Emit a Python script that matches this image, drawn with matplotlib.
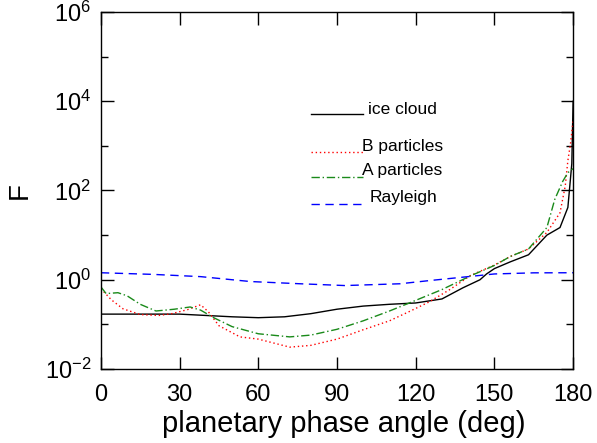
import numpy as np
import matplotlib
matplotlib.use("Agg")
import matplotlib.pyplot as plt
from matplotlib.ticker import FixedLocator, LogFormatterMathtext, NullFormatter

plt.rcParams['font.family'] = ['Liberation Sans', 'DejaVu Sans']
plt.rcParams['mathtext.default'] = 'regular'

# values (log10 F)
ice_x = [0, 10, 20, 30, 40, 50, 60, 70, 80, 90, 100, 110, 120, 130, 138, 144.5,
         147, 150, 156, 163, 170, 175, 178, 179.5, 180]
ice_log = [-0.77, -0.77, -0.77, -0.77, -0.80, -0.83, -0.85, -0.83, -0.76, -0.66,
           -0.59, -0.55, -0.52, -0.43, -0.18, 0.0, 0.13, 0.25, 0.40, 0.56, 1.0,
           1.17, 1.62, 2.6, 4.0]

a_x = [0, 2, 6.5, 10, 15, 21, 28, 34, 38, 43, 50, 60, 72, 80, 90, 100, 110, 118,
       130, 141, 150, 156, 163, 170, 173, 176, 178, 180]
a_log = [-0.16, -0.31, -0.29, -0.36, -0.55, -0.70, -0.66, -0.61, -0.68, -0.85,
         -1.05, -1.21, -1.28, -1.24, -1.11, -0.92, -0.70, -0.51, -0.22, 0.09,
         0.32, 0.52, 0.69, 1.17, 1.8, 2.2, 2.4, 2.49]

b_x = [0, 4, 8.4, 15, 22, 27, 33, 38, 41, 45, 53, 60, 66, 72, 80, 90, 100, 110,
       118, 125, 133, 141, 150, 156, 163, 170, 175, 177, 178, 179, 180]
b_log = [-0.2, -0.45, -0.65, -0.78, -0.80, -0.76, -0.67, -0.56, -0.72, -1.03,
         -1.28, -1.33, -1.42, -1.51, -1.47, -1.33, -1.12, -0.92, -0.70, -0.50,
         -0.22, 0.10, 0.33, 0.52, 0.69, 1.06, 1.5, 2.1, 2.67, 3.05, 3.57]

ray_x = [0, 20, 38, 57, 76, 93, 114, 125, 140, 150, 165, 180]
ray_log = [0.157, 0.12, 0.07, -0.04, -0.09, -0.13, -0.09, -0.02, 0.07, 0.13,
           0.155, 0.157]

series = [
    ("ice cloud", ice_x, ice_log, dict(color="black", ls="-")),
    ("B particles", b_x, b_log, dict(color="red", ls=(0, (1, 2)))),
    ("A particles", a_x, a_log, dict(color="#1a8a1a", ls=(0, (6, 2, 1, 2)))),
    ("Rayleigh", ray_x, ray_log, dict(color="blue", ls=(0, (6, 4)))),
]

fig = plt.figure(figsize=(5.97, 4.43), dpi=100)
ax = fig.add_axes([0.169, 0.167, 0.791, 0.806])

for name, xs, lg, st in series:
    ax.plot(xs, 10 ** np.array(lg), lw=1.0, **st)

ax.set_yscale('log')
ax.set_xlim(0, 180)
ax.set_ylim(1e-2, 1e6)
ax.set_xticks([0, 30, 60, 90, 120, 150, 180])
ax.yaxis.set_major_locator(FixedLocator([1e-2, 1e0, 1e2, 1e4, 1e6]))
ax.yaxis.set_major_formatter(LogFormatterMathtext())
ax.yaxis.set_minor_locator(FixedLocator([1e-1, 1e1, 1e3, 1e5]))
ax.yaxis.set_minor_formatter(NullFormatter())
ax.tick_params(which='major', direction='in', length=9, width=1,
               top=True, right=True, labelsize=17)
ax.tick_params(axis='x', which='major', pad=11)
ax.tick_params(axis='y', which='major', pad=7)
ax.tick_params(which='minor', direction='in', length=5, width=1,
               top=True, right=True)
for s in ax.spines.values():
    s.set_linewidth(1.0)

ax.set_xlabel('planetary phase angle (deg)', fontsize=21)
ax.xaxis.set_label_coords(0.515, -0.115)
ax.set_ylabel('F', fontsize=20)
ax.yaxis.set_label_coords(-0.172, 0.5)
ax.yaxis.label.set_va('center')

# legend drawn by hand, no frame: (text x, text y, line y) in axes fraction
leg_text_x = [0.566, 0.553, 0.553, 0.570]
leg_text_y = [0.728, 0.622, 0.555, 0.479]
leg_line_y = [0.714, 0.608, 0.538, 0.462]
for (name, _, _, st), tx, ty, ly in zip(series, leg_text_x, leg_text_y, leg_line_y):
    ax.plot([0.444, 0.554], [ly, ly], transform=ax.transAxes, lw=1.0, **st)
    ax.text(tx, ty, name, transform=ax.transAxes, fontsize=12.5,
            va='center', ha='left')

fig.savefig('out.png', dpi=100)
